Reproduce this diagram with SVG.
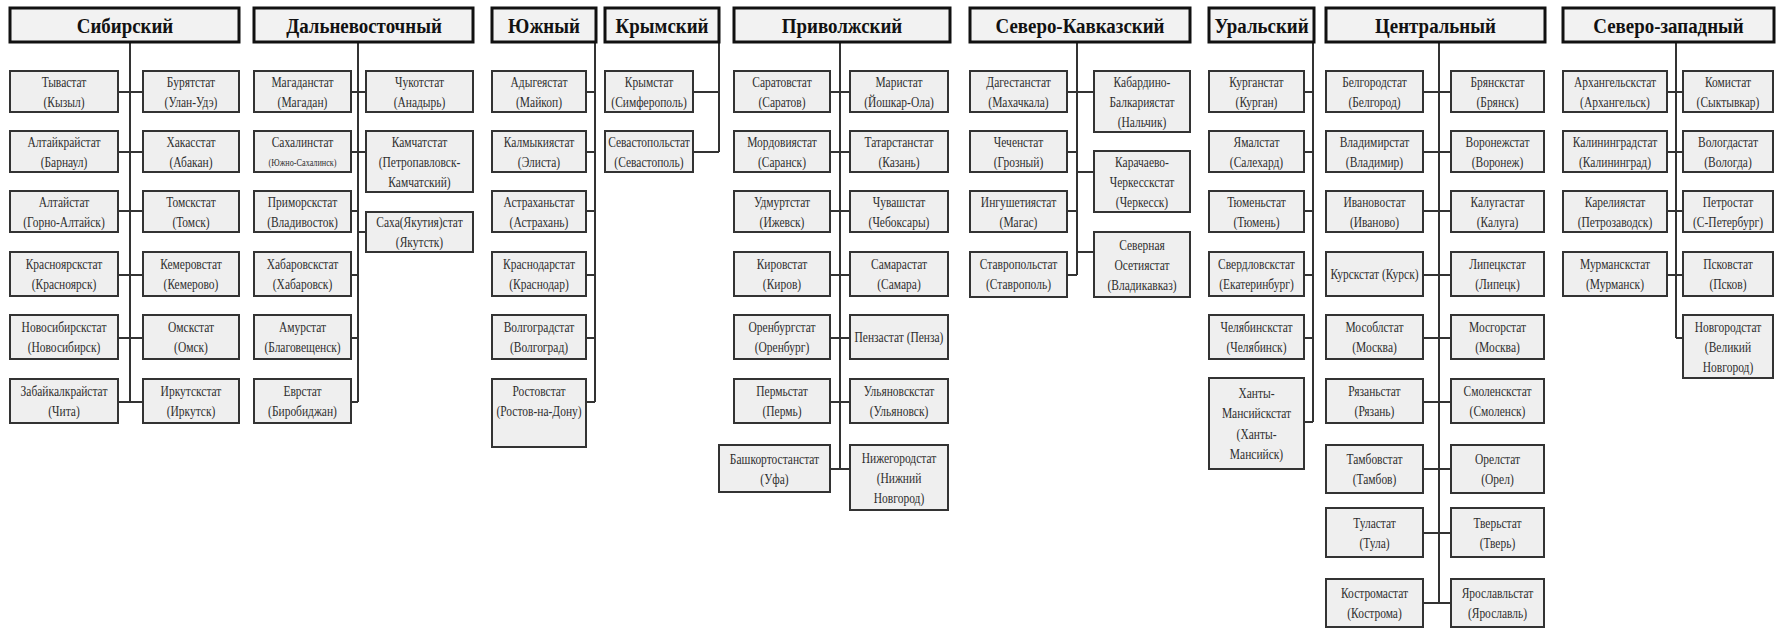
<svg xmlns="http://www.w3.org/2000/svg" width="1787" height="635" viewBox="0 0 1787 635">
<style>
.bg{fill:#ffffff}
.b{fill:#efefef;stroke:#333;stroke-width:2}
.h{fill:#f2f2f2;stroke:#111;stroke-width:3}
.t{font-family:'Liberation Serif','DejaVu Serif',serif;font-size:14px;fill:#2e2e2e;text-anchor:middle}
.s{font-size:10px}
.ht{font-family:'Liberation Serif','DejaVu Serif',serif;font-size:22px;font-weight:bold;fill:#111;text-anchor:middle}
.c{stroke:#333;stroke-width:2;fill:none}
</style>
<rect class="bg" x="0" y="0" width="1787" height="635"/>
<g id="connectors" class="c">
<path d="M130 43V402M118 92H143M118 152H143M118 211H143M118 275H143M118 338H143M118 402H143"/>
<path d="M358 43V402M351 92H366M351 152H366M351 211H358M358 232H366M351 275H358M351 338H358M351 402H358"/>
<path d="M595 43V402M586 92H595M586 152H595M586 211H595M586 275H595M586 338H595M586 402H595"/>
<path d="M719 43V152M693 92H719M693 152H719"/>
<path d="M840 43V469M830 92H850M830 152H850M830 211H850M830 275H850M830 338H850M830 402H850M830 469H850"/>
<path d="M1077 43V275M1067 92H1094M1067 152H1077M1077 172H1094M1067 211H1077M1077 252H1094M1067 275H1077"/>
<path d="M1313 43V422M1304 92H1313M1304 152H1313M1304 211H1313M1304 275H1313M1304 338H1313M1304 422H1313"/>
<path d="M1439 43V603M1423 92H1451M1423 152H1451M1423 211H1451M1423 275H1451M1423 338H1451M1423 402H1451M1423 469H1451M1423 533H1451M1423 603H1451"/>
<path d="M1676 43V338M1667 92H1683M1667 152H1683M1667 211H1683M1667 275H1683M1676 338H1683"/>
</g>

<!-- Сибирский -->
<g id="h-sib"><rect class="h" x="10" y="8" width="229" height="34"/><text class="ht" transform="translate(125 0) scale(.86 1)" x="0" y="33">Сибирский</text></g>
<g id="n-tyva"><rect class="b" x="10" y="71" width="108" height="41"/><text class="t" transform="translate(64 0) scale(.82 1)"><tspan x="0" y="87">Тывастат</tspan><tspan x="0" y="107">(Кызыл)</tspan></text></g>
<g id="n-altkr"><rect class="b" x="10" y="131" width="108" height="41"/><text class="t" transform="translate(64 0) scale(.82 1)"><tspan x="0" y="147">Алтайкрайстат</tspan><tspan x="0" y="167">(Барнаул)</tspan></text></g>
<g id="n-alt"><rect class="b" x="10" y="191" width="108" height="41"/><text class="t" transform="translate(64 0) scale(.82 1)"><tspan x="0" y="207">Алтайстат</tspan><tspan x="0" y="227">(Горно-Алтайск)</tspan></text></g>
<g id="n-krsk"><rect class="b" x="10" y="252" width="108" height="44"/><text class="t" transform="translate(64 0) scale(.82 1)"><tspan x="0" y="269">Красноярскстат</tspan><tspan x="0" y="289">(Красноярск)</tspan></text></g>
<g id="n-nsk"><rect class="b" x="10" y="315" width="108" height="44"/><text class="t" transform="translate(64 0) scale(.82 1)"><tspan x="0" y="332">Новосибирскстат</tspan><tspan x="0" y="352">(Новосибирск)</tspan></text></g>
<g id="n-zab"><rect class="b" x="10" y="379" width="108" height="44"/><text class="t" transform="translate(64 0) scale(.82 1)"><tspan x="0" y="396">Забайкалкрайстат</tspan><tspan x="0" y="416">(Чита)</tspan></text></g>
<g id="n-bur"><rect class="b" x="143" y="71" width="96" height="41"/><text class="t" transform="translate(191 0) scale(.82 1)"><tspan x="0" y="87">Бурятстат</tspan><tspan x="0" y="107">(Улан-Удэ)</tspan></text></g>
<g id="n-khak"><rect class="b" x="143" y="131" width="96" height="41"/><text class="t" transform="translate(191 0) scale(.82 1)"><tspan x="0" y="147">Хакасстат</tspan><tspan x="0" y="167">(Абакан)</tspan></text></g>
<g id="n-tomsk"><rect class="b" x="143" y="191" width="96" height="41"/><text class="t" transform="translate(191 0) scale(.82 1)"><tspan x="0" y="207">Томскстат</tspan><tspan x="0" y="227">(Томск)</tspan></text></g>
<g id="n-kem"><rect class="b" x="143" y="252" width="96" height="44"/><text class="t" transform="translate(191 0) scale(.82 1)"><tspan x="0" y="269">Кемеровстат</tspan><tspan x="0" y="289">(Кемерово)</tspan></text></g>
<g id="n-omsk"><rect class="b" x="143" y="315" width="96" height="44"/><text class="t" transform="translate(191 0) scale(.82 1)"><tspan x="0" y="332">Омскстат</tspan><tspan x="0" y="352">(Омск)</tspan></text></g>
<g id="n-irk"><rect class="b" x="143" y="379" width="96" height="44"/><text class="t" transform="translate(191 0) scale(.82 1)"><tspan x="0" y="396">Иркутскстат</tspan><tspan x="0" y="416">(Иркутск)</tspan></text></g>

<!-- Дальневосточный -->
<g id="h-dv"><rect class="h" x="254" y="8" width="219" height="34"/><text class="ht" transform="translate(364 0) scale(.86 1)" x="0" y="33">Дальневосточный</text></g>
<g id="n-mag"><rect class="b" x="254" y="71" width="97" height="41"/><text class="t" transform="translate(302.5 0) scale(.82 1)"><tspan x="0" y="87">Магаданстат</tspan><tspan x="0" y="107">(Магадан)</tspan></text></g>
<g id="n-sakh"><rect class="b" x="254" y="131" width="97" height="41"/><text class="t" transform="translate(302.5 0) scale(.82 1)"><tspan x="0" y="147">Сахалинстат</tspan><tspan class="s" x="0" y="166">(Южно-Сахалинск)</tspan></text></g>
<g id="n-prim"><rect class="b" x="254" y="191" width="97" height="41"/><text class="t" transform="translate(302.5 0) scale(.82 1)"><tspan x="0" y="207">Приморскстат</tspan><tspan x="0" y="227">(Владивосток)</tspan></text></g>
<g id="n-khab"><rect class="b" x="254" y="252" width="97" height="44"/><text class="t" transform="translate(302.5 0) scale(.82 1)"><tspan x="0" y="269">Хабаровскстат</tspan><tspan x="0" y="289">(Хабаровск)</tspan></text></g>
<g id="n-amur"><rect class="b" x="254" y="315" width="97" height="44"/><text class="t" transform="translate(302.5 0) scale(.82 1)"><tspan x="0" y="332">Амурстат</tspan><tspan x="0" y="352">(Благовещенск)</tspan></text></g>
<g id="n-evr"><rect class="b" x="254" y="379" width="97" height="44"/><text class="t" transform="translate(302.5 0) scale(.82 1)"><tspan x="0" y="396">Еврстат</tspan><tspan x="0" y="416">(Биробиджан)</tspan></text></g>
<g id="n-chuk"><rect class="b" x="366" y="71" width="107" height="41"/><text class="t" transform="translate(419.5 0) scale(.82 1)"><tspan x="0" y="87">Чукотстат</tspan><tspan x="0" y="107">(Анадырь)</tspan></text></g>
<g id="n-kamch"><rect class="b" x="366" y="131" width="107" height="61"/><text class="t" transform="translate(419.5 0) scale(.82 1)"><tspan x="0" y="147">Камчатстат</tspan><tspan x="0" y="167">(Петропавловск-</tspan><tspan x="0" y="187">Камчатский)</tspan></text></g>
<g id="n-yak"><rect class="b" x="366" y="212" width="107" height="40"/><text class="t" transform="translate(419.5 0) scale(.82 1)"><tspan x="0" y="227">Саха(Якутия)стат</tspan><tspan x="0" y="247">(Якутстк)</tspan></text></g>

<!-- Южный -->
<g id="h-yug"><rect class="h" x="492" y="8" width="104" height="34"/><text class="ht" transform="translate(544 0) scale(.86 1)" x="0" y="33">Южный</text></g>
<g id="n-adyg"><rect class="b" x="492" y="71" width="94" height="41"/><text class="t" transform="translate(539 0) scale(.82 1)"><tspan x="0" y="87">Адыгеястат</tspan><tspan x="0" y="107">(Майкоп)</tspan></text></g>
<g id="n-kalm"><rect class="b" x="492" y="131" width="94" height="41"/><text class="t" transform="translate(539 0) scale(.82 1)"><tspan x="0" y="147">Калмыкиястат</tspan><tspan x="0" y="167">(Элиста)</tspan></text></g>
<g id="n-astr"><rect class="b" x="492" y="191" width="94" height="41"/><text class="t" transform="translate(539 0) scale(.82 1)"><tspan x="0" y="207">Астраханьстат</tspan><tspan x="0" y="227">(Астрахань)</tspan></text></g>
<g id="n-krd"><rect class="b" x="492" y="252" width="94" height="44"/><text class="t" transform="translate(539 0) scale(.82 1)"><tspan x="0" y="269">Краснодарстат</tspan><tspan x="0" y="289">(Краснодар)</tspan></text></g>
<g id="n-vlg"><rect class="b" x="492" y="315" width="94" height="44"/><text class="t" transform="translate(539 0) scale(.82 1)"><tspan x="0" y="332">Волгоградстат</tspan><tspan x="0" y="352">(Волгоград)</tspan></text></g>
<g id="n-rost"><rect class="b" x="492" y="379" width="94" height="68"/><text class="t" transform="translate(539 0) scale(.82 1)"><tspan x="0" y="396">Ростовстат</tspan><tspan x="0" y="416">(Ростов-на-Дону)</tspan></text></g>

<!-- Крымский -->
<g id="h-krym"><rect class="h" x="605" y="8" width="114" height="34"/><text class="ht" transform="translate(662 0) scale(.86 1)" x="0" y="33">Крымский</text></g>
<g id="n-krymstat"><rect class="b" x="605" y="71" width="88" height="41"/><text class="t" transform="translate(649 0) scale(.82 1)"><tspan x="0" y="87">Крымстат</tspan><tspan x="0" y="107">(Симферополь)</tspan></text></g>
<g id="n-sev"><rect class="b" x="605" y="131" width="88" height="41"/><text class="t" transform="translate(649 0) scale(.82 1)"><tspan x="0" y="147">Севастопольстат</tspan><tspan x="0" y="167">(Севастополь)</tspan></text></g>

<!-- Приволжский -->
<g id="h-pfo"><rect class="h" x="734" y="8" width="216" height="34"/><text class="ht" transform="translate(842 0) scale(.86 1)" x="0" y="33">Приволжский</text></g>
<g id="n-sar"><rect class="b" x="734" y="71" width="96" height="41"/><text class="t" transform="translate(782 0) scale(.82 1)"><tspan x="0" y="87">Саратовстат</tspan><tspan x="0" y="107">(Саратов)</tspan></text></g>
<g id="n-mord"><rect class="b" x="734" y="131" width="96" height="41"/><text class="t" transform="translate(782 0) scale(.82 1)"><tspan x="0" y="147">Мордовиястат</tspan><tspan x="0" y="167">(Саранск)</tspan></text></g>
<g id="n-udm"><rect class="b" x="734" y="191" width="96" height="41"/><text class="t" transform="translate(782 0) scale(.82 1)"><tspan x="0" y="207">Удмуртстат</tspan><tspan x="0" y="227">(Ижевск)</tspan></text></g>
<g id="n-kir"><rect class="b" x="734" y="252" width="96" height="44"/><text class="t" transform="translate(782 0) scale(.82 1)"><tspan x="0" y="269">Кировстат</tspan><tspan x="0" y="289">(Киров)</tspan></text></g>
<g id="n-orb"><rect class="b" x="734" y="315" width="96" height="44"/><text class="t" transform="translate(782 0) scale(.82 1)"><tspan x="0" y="332">Оренбургстат</tspan><tspan x="0" y="352">(Оренбург)</tspan></text></g>
<g id="n-perm"><rect class="b" x="734" y="379" width="96" height="44"/><text class="t" transform="translate(782 0) scale(.82 1)"><tspan x="0" y="396">Пермьстат</tspan><tspan x="0" y="416">(Пермь)</tspan></text></g>
<g id="n-bash"><rect class="b" x="719" y="445" width="111" height="47"/><text class="t" transform="translate(774.5 0) scale(.82 1)"><tspan x="0" y="464">Башкортостанстат</tspan><tspan x="0" y="484">(Уфа)</tspan></text></g>
<g id="n-mari"><rect class="b" x="850" y="71" width="98" height="41"/><text class="t" transform="translate(899 0) scale(.82 1)"><tspan x="0" y="87">Маристат</tspan><tspan x="0" y="107">(Йошкар-Ола)</tspan></text></g>
<g id="n-tat"><rect class="b" x="850" y="131" width="98" height="41"/><text class="t" transform="translate(899 0) scale(.82 1)"><tspan x="0" y="147">Татарстанстат</tspan><tspan x="0" y="167">(Казань)</tspan></text></g>
<g id="n-chuv"><rect class="b" x="850" y="191" width="98" height="41"/><text class="t" transform="translate(899 0) scale(.82 1)"><tspan x="0" y="207">Чувашстат</tspan><tspan x="0" y="227">(Чебоксары)</tspan></text></g>
<g id="n-sam"><rect class="b" x="850" y="252" width="98" height="44"/><text class="t" transform="translate(899 0) scale(.82 1)"><tspan x="0" y="269">Самарастат</tspan><tspan x="0" y="289">(Самара)</tspan></text></g>
<g id="n-penz"><rect class="b" x="850" y="315" width="98" height="44"/><text class="t" transform="translate(899 0) scale(.82 1)"><tspan x="0" y="342">Пензастат (Пенза)</tspan></text></g>
<g id="n-uln"><rect class="b" x="850" y="379" width="98" height="44"/><text class="t" transform="translate(899 0) scale(.82 1)"><tspan x="0" y="396">Ульяновскстат</tspan><tspan x="0" y="416">(Ульяновск)</tspan></text></g>
<g id="n-nnov"><rect class="b" x="850" y="445" width="98" height="65"/><text class="t" transform="translate(899 0) scale(.82 1)"><tspan x="0" y="463">Нижегородстат</tspan><tspan x="0" y="483">(Нижний</tspan><tspan x="0" y="503">Новгород)</tspan></text></g>

<!-- Северо-Кавказский -->
<g id="h-skfo"><rect class="h" x="970" y="8" width="220" height="34"/><text class="ht" transform="translate(1080 0) scale(.86 1)" x="0" y="33">Северо-Кавказский</text></g>
<g id="n-dag"><rect class="b" x="970" y="71" width="97" height="41"/><text class="t" transform="translate(1018.5 0) scale(.82 1)"><tspan x="0" y="87">Дагестанстат</tspan><tspan x="0" y="107">(Махачкала)</tspan></text></g>
<g id="n-chech"><rect class="b" x="970" y="131" width="97" height="41"/><text class="t" transform="translate(1018.5 0) scale(.82 1)"><tspan x="0" y="147">Чеченстат</tspan><tspan x="0" y="167">(Грозный)</tspan></text></g>
<g id="n-ing"><rect class="b" x="970" y="191" width="97" height="41"/><text class="t" transform="translate(1018.5 0) scale(.82 1)"><tspan x="0" y="207">Ингушетиястат</tspan><tspan x="0" y="227">(Магас)</tspan></text></g>
<g id="n-stav"><rect class="b" x="970" y="252" width="97" height="45"/><text class="t" transform="translate(1018.5 0) scale(.82 1)"><tspan x="0" y="269">Ставропольстат</tspan><tspan x="0" y="289">(Ставрополь)</tspan></text></g>
<g id="n-kbr"><rect class="b" x="1094" y="71" width="96" height="61"/><text class="t" transform="translate(1142 0) scale(.82 1)"><tspan x="0" y="87">Кабардино-</tspan><tspan x="0" y="107">Балкариястат</tspan><tspan x="0" y="127">(Нальчик)</tspan></text></g>
<g id="n-kchr"><rect class="b" x="1094" y="151" width="96" height="61"/><text class="t" transform="translate(1142 0) scale(.82 1)"><tspan x="0" y="167">Карачаево-</tspan><tspan x="0" y="187">Черкесскстат</tspan><tspan x="0" y="207">(Черкесск)</tspan></text></g>
<g id="n-oset"><rect class="b" x="1094" y="232" width="96" height="65"/><text class="t" transform="translate(1142 0) scale(.82 1)"><tspan x="0" y="250">Северная</tspan><tspan x="0" y="270">Осетиястат</tspan><tspan x="0" y="290">(Владикавказ)</tspan></text></g>

<!-- Уральский -->
<g id="h-ural"><rect class="h" x="1209" y="8" width="105" height="34"/><text class="ht" transform="translate(1261.5 0) scale(.86 1)" x="0" y="33">Уральский</text></g>
<g id="n-kurg"><rect class="b" x="1209" y="71" width="95" height="41"/><text class="t" transform="translate(1256.5 0) scale(.82 1)"><tspan x="0" y="87">Курганстат</tspan><tspan x="0" y="107">(Курган)</tspan></text></g>
<g id="n-yam"><rect class="b" x="1209" y="131" width="95" height="41"/><text class="t" transform="translate(1256.5 0) scale(.82 1)"><tspan x="0" y="147">Ямалстат</tspan><tspan x="0" y="167">(Салехард)</tspan></text></g>
<g id="n-tyum"><rect class="b" x="1209" y="191" width="95" height="41"/><text class="t" transform="translate(1256.5 0) scale(.82 1)"><tspan x="0" y="207">Тюменьстат</tspan><tspan x="0" y="227">(Тюмень)</tspan></text></g>
<g id="n-sverd"><rect class="b" x="1209" y="252" width="95" height="44"/><text class="t" transform="translate(1256.5 0) scale(.82 1)"><tspan x="0" y="269">Свердловскстат</tspan><tspan x="0" y="289">(Екатеринбург)</tspan></text></g>
<g id="n-chel"><rect class="b" x="1209" y="315" width="95" height="44"/><text class="t" transform="translate(1256.5 0) scale(.82 1)"><tspan x="0" y="332">Челябинскстат</tspan><tspan x="0" y="352">(Челябинск)</tspan></text></g>
<g id="n-hmao"><rect class="b" x="1209" y="378" width="95" height="91"/><text class="t" transform="translate(1256.5 0) scale(.82 1)"><tspan x="0" y="398">Ханты-</tspan><tspan x="0" y="418">Мансийскстат</tspan><tspan x="0" y="439">(Ханты-</tspan><tspan x="0" y="459">Мансийск)</tspan></text></g>

<!-- Центральный -->
<g id="h-cfo"><rect class="h" x="1326" y="8" width="219" height="34"/><text class="ht" transform="translate(1435.5 0) scale(.86 1)" x="0" y="33">Центральный</text></g>
<g id="n-belg"><rect class="b" x="1326" y="71" width="97" height="41"/><text class="t" transform="translate(1374.5 0) scale(.82 1)"><tspan x="0" y="87">Белгородстат</tspan><tspan x="0" y="107">(Белгород)</tspan></text></g>
<g id="n-vlad"><rect class="b" x="1326" y="131" width="97" height="41"/><text class="t" transform="translate(1374.5 0) scale(.82 1)"><tspan x="0" y="147">Владимирстат</tspan><tspan x="0" y="167">(Владимир)</tspan></text></g>
<g id="n-ivan"><rect class="b" x="1326" y="191" width="97" height="41"/><text class="t" transform="translate(1374.5 0) scale(.82 1)"><tspan x="0" y="207">Ивановостат</tspan><tspan x="0" y="227">(Иваново)</tspan></text></g>
<g id="n-kursk"><rect class="b" x="1326" y="252" width="97" height="44"/><text class="t" transform="translate(1374.5 0) scale(.82 1)"><tspan x="0" y="279">Курскстат (Курск)</tspan></text></g>
<g id="n-mosobl"><rect class="b" x="1326" y="315" width="97" height="44"/><text class="t" transform="translate(1374.5 0) scale(.82 1)"><tspan x="0" y="332">Мособлстат</tspan><tspan x="0" y="352">(Москва)</tspan></text></g>
<g id="n-ryaz"><rect class="b" x="1326" y="379" width="97" height="44"/><text class="t" transform="translate(1374.5 0) scale(.82 1)"><tspan x="0" y="396">Рязаньстат</tspan><tspan x="0" y="416">(Рязань)</tspan></text></g>
<g id="n-tamb"><rect class="b" x="1326" y="445" width="97" height="48"/><text class="t" transform="translate(1374.5 0) scale(.82 1)"><tspan x="0" y="464">Тамбовстат</tspan><tspan x="0" y="484">(Тамбов)</tspan></text></g>
<g id="n-tula"><rect class="b" x="1326" y="508" width="97" height="49"/><text class="t" transform="translate(1374.5 0) scale(.82 1)"><tspan x="0" y="528">Туластат</tspan><tspan x="0" y="548">(Тула)</tspan></text></g>
<g id="n-kostr"><rect class="b" x="1326" y="579" width="97" height="48"/><text class="t" transform="translate(1374.5 0) scale(.82 1)"><tspan x="0" y="598">Костромастат</tspan><tspan x="0" y="618">(Кострома)</tspan></text></g>
<g id="n-bryansk"><rect class="b" x="1451" y="71" width="93" height="41"/><text class="t" transform="translate(1497.5 0) scale(.82 1)"><tspan x="0" y="87">Брянскстат</tspan><tspan x="0" y="107">(Брянск)</tspan></text></g>
<g id="n-vrn"><rect class="b" x="1451" y="131" width="93" height="41"/><text class="t" transform="translate(1497.5 0) scale(.82 1)"><tspan x="0" y="147">Воронежстат</tspan><tspan x="0" y="167">(Воронеж)</tspan></text></g>
<g id="n-kaluga"><rect class="b" x="1451" y="191" width="93" height="41"/><text class="t" transform="translate(1497.5 0) scale(.82 1)"><tspan x="0" y="207">Калугастат</tspan><tspan x="0" y="227">(Калуга)</tspan></text></g>
<g id="n-lip"><rect class="b" x="1451" y="252" width="93" height="44"/><text class="t" transform="translate(1497.5 0) scale(.82 1)"><tspan x="0" y="269">Липецкстат</tspan><tspan x="0" y="289">(Липецк)</tspan></text></g>
<g id="n-mosgor"><rect class="b" x="1451" y="315" width="93" height="44"/><text class="t" transform="translate(1497.5 0) scale(.82 1)"><tspan x="0" y="332">Мосгорстат</tspan><tspan x="0" y="352">(Москва)</tspan></text></g>
<g id="n-smol"><rect class="b" x="1451" y="379" width="93" height="44"/><text class="t" transform="translate(1497.5 0) scale(.82 1)"><tspan x="0" y="396">Смоленскстат</tspan><tspan x="0" y="416">(Смоленск)</tspan></text></g>
<g id="n-orel"><rect class="b" x="1451" y="445" width="93" height="48"/><text class="t" transform="translate(1497.5 0) scale(.82 1)"><tspan x="0" y="464">Орелстат</tspan><tspan x="0" y="484">(Орел)</tspan></text></g>
<g id="n-tver"><rect class="b" x="1451" y="508" width="93" height="49"/><text class="t" transform="translate(1497.5 0) scale(.82 1)"><tspan x="0" y="528">Тверьстат</tspan><tspan x="0" y="548">(Тверь)</tspan></text></g>
<g id="n-yar"><rect class="b" x="1451" y="579" width="93" height="48"/><text class="t" transform="translate(1497.5 0) scale(.82 1)"><tspan x="0" y="598">Ярославльстат</tspan><tspan x="0" y="618">(Ярославль)</tspan></text></g>

<!-- Северо-западный -->
<g id="h-szfo"><rect class="h" x="1563" y="8" width="211" height="34"/><text class="ht" transform="translate(1668.5 0) scale(.86 1)" x="0" y="33">Северо-западный</text></g>
<g id="n-arh"><rect class="b" x="1563" y="71" width="104" height="41"/><text class="t" transform="translate(1615 0) scale(.82 1)"><tspan x="0" y="87">Архангельскстат</tspan><tspan x="0" y="107">(Архангельск)</tspan></text></g>
<g id="n-kld"><rect class="b" x="1563" y="131" width="104" height="41"/><text class="t" transform="translate(1615 0) scale(.82 1)"><tspan x="0" y="147">Калининградстат</tspan><tspan x="0" y="167">(Калининград)</tspan></text></g>
<g id="n-kar"><rect class="b" x="1563" y="191" width="104" height="41"/><text class="t" transform="translate(1615 0) scale(.82 1)"><tspan x="0" y="207">Карелиястат</tspan><tspan x="0" y="227">(Петрозаводск)</tspan></text></g>
<g id="n-murm"><rect class="b" x="1563" y="252" width="104" height="44"/><text class="t" transform="translate(1615 0) scale(.82 1)"><tspan x="0" y="269">Мурманскстат</tspan><tspan x="0" y="289">(Мурманск)</tspan></text></g>
<g id="n-komi"><rect class="b" x="1683" y="71" width="90" height="41"/><text class="t" transform="translate(1728 0) scale(.82 1)"><tspan x="0" y="87">Комистат</tspan><tspan x="0" y="107">(Сыктывкар)</tspan></text></g>
<g id="n-vol"><rect class="b" x="1683" y="131" width="90" height="41"/><text class="t" transform="translate(1728 0) scale(.82 1)"><tspan x="0" y="147">Вологдастат</tspan><tspan x="0" y="167">(Вологда)</tspan></text></g>
<g id="n-petro"><rect class="b" x="1683" y="191" width="90" height="41"/><text class="t" transform="translate(1728 0) scale(.82 1)"><tspan x="0" y="207">Петростат</tspan><tspan x="0" y="227">(С-Петербург)</tspan></text></g>
<g id="n-pskov"><rect class="b" x="1683" y="252" width="90" height="44"/><text class="t" transform="translate(1728 0) scale(.82 1)"><tspan x="0" y="269">Псковстат</tspan><tspan x="0" y="289">(Псков)</tspan></text></g>
<g id="n-novg"><rect class="b" x="1683" y="315" width="90" height="63"/><text class="t" transform="translate(1728 0) scale(.82 1)"><tspan x="0" y="332">Новгородстат</tspan><tspan x="0" y="352">(Великий</tspan><tspan x="0" y="372">Новгород)</tspan></text></g>
</svg>
